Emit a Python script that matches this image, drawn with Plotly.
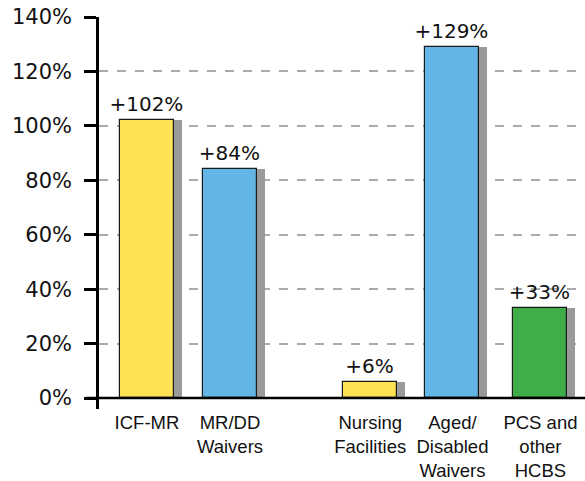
import plotly.graph_objects as go

categories = ["ICF-MR", "MR/DD<br>Waivers", "Nursing<br>Facilities", "Aged/<br>Disabled<br>Waivers", "PCS and<br>other<br>HCBS"]
values = [102, 84, 6, 129, 33]
labels = ["+102%", "+84%", "+6%", "+129%", "+33%"]
colors = ["#FDE354", "#62B5E5", "#FDE354", "#62B5E5", "#3FAD48"]
y_ticks = [0, 20, 40, 60, 80, 100, 120, 140]
y_tick_text = ["0%", "20%", "40%", "60%", "80%", "100%", "120%", "140%"]

# layout positions of the bars (gap between the two groups)
x_pos = [0, 1, 2.69, 3.68, 4.74]
bar_w = 0.65
shadow_shift = 0.096

fig = go.Figure()
fig.add_trace(go.Bar(
    x=x_pos, y=values, width=bar_w, offset=-bar_w / 2 + shadow_shift,
    marker=dict(color="#9A9A9A", line=dict(width=0)),
    hoverinfo="skip", showlegend=False,
))
fig.add_trace(go.Bar(
    x=x_pos, y=values, width=bar_w,
    marker=dict(color=colors, line=dict(color="#1a1a1a", width=1.2)),
    text=labels, textposition="outside", constraintext="none", cliponaxis=False,
    textfont=dict(family="DejaVu Sans, sans-serif", size=20, color="#111111"),
    showlegend=False,
))

fig.add_shape(type="line", xref="paper", yref="y", x0=-13 / 486, x1=1, y0=0, y1=0,
              line=dict(color="black", width=2.5), layer="above")

fig.update_layout(
    width=585, height=481,
    margin=dict(l=99, r=0, t=17, b=72, autoexpand=False),
    paper_bgcolor="white", plot_bgcolor="white",
    barmode="overlay", bargap=0,
    font=dict(family="Liberation Sans, Arial, sans-serif", color="#111111"),
    xaxis=dict(
        range=[-0.578, 5.277], tickvals=x_pos, ticktext=categories,
        showgrid=False, zeroline=False, showline=False, ticks="",
        tickfont=dict(size=18.5), ticklabelstandoff=0, automargin=False, fixedrange=True,
    ),
    yaxis=dict(
        range=[-4.04, 140], tickvals=y_ticks, ticktext=y_tick_text,
        showgrid=True, gridcolor="#ABABAB", griddash="dash", gridwidth=1.5,
        zeroline=False, showline=True, linecolor="black", linewidth=2.5,
        ticks="outside", ticklen=12, tickwidth=2.5, tickcolor="black",
        tickfont=dict(family="DejaVu Sans, sans-serif", size=21), ticklabelstandoff=8,
        automargin=False, fixedrange=True,
    ),
)

fig.write_html("out.html", config={"displayModeBar": False},
               post_script="document.body.style.margin='0px';")
